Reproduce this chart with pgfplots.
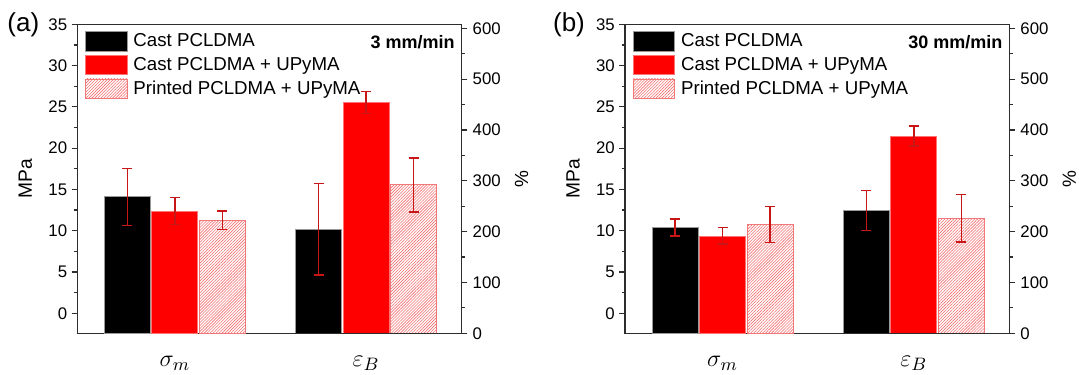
\documentclass[border=0pt]{standalone}
\usepackage{fontspec}
\setmainfont{Liberation Sans}
\usepackage{pgfplots}
\usepackage{pgfplotstable}
\pgfplotsset{compat=1.18}
\usetikzlibrary{patterns.meta}
\definecolor{errred}{RGB}{200,22,22}
\definecolor{hatchred}{RGB}{242,110,110}
\definecolor{hatchedge}{RGB}{240,120,120}
\definecolor{axisgray}{RGB}{45,45,45}

% sigma_m in MPa (value, error); eps_B in % (value, error)
\pgfplotstableread{
x cast castE castU castUE print printE
1 14.1 3.45 12.4 1.63 11.25 1.13
}\aSigma
\pgfplotstableread{
x cast castE castU castUE print printE
2 205 90 454 22 292 53
}\aEps
\pgfplotstableread{
x cast castE castU castUE print printE
1 10.38 1.03 9.37 1.0 10.78 2.18
}\bSigma
\pgfplotstableread{
x cast castE castU castUE print printE
2 242 39.5 388 19.7 226.5 47
}\bEps

\def\off{2.42}
\def\bs{0.248}

\pgfplotsset{
 errplot/.style={draw=none, mark=none, forget plot,
   error bars/y dir=both, error bars/y explicit,
   error bars/error bar style={draw=errred, line width=0.7pt},
   error bars/error mark options={rotate=90, draw=errred, mark size=2.5pt, line width=0.7pt}},
 boxlegend/.style={legend image code/.code={\draw[##1] (0pt,-4.9pt) rectangle (20.8pt,4.9pt);}},
 castbar/.style={ybar, bar width=0.24, bar shift=-\bs, fill=black, draw=black!40, line width=0.4pt, boxlegend},
 castubar/.style={ybar, bar width=0.24, bar shift=0, fill=red, draw=red!55!white, line width=0.4pt, boxlegend},
 printbar/.style={ybar, bar width=0.24, bar shift=\bs, draw=hatchedge, line width=0.4pt,
   pattern={Lines[angle=45,distance=1.05pt,line width=0.3pt]}, pattern color=hatchred, boxlegend},
 common/.style={scale only axis, width=192.2pt, height=154.5pt, xmin=0.49, xmax=2.5,
   tick align=outside, major tick length=2.8pt, minor tick length=1.6pt,
   axis line style={axisgray, line width=0.65pt}, tick style={axisgray, line width=0.6pt},
   yticklabel style={font=\fontsize{8.4}{9}\selectfont},
   /pgf/number format/assume math mode=true},
 rightaxis/.style={common, ymin=0, ymax=607.9, axis x line=none, axis y line*=right,
   ytick={0,100,200,300,400,500,600}, minor ytick={50,150,250,350,450,550},
   yticklabel style={inner sep=2.5pt},
   ylabel={\%}, ylabel style={at={(axis description cs:1.156,0.5)}, anchor=center, font=\fontsize{9.5}{10}\selectfont}},
 leftaxis/.style={common, ymin=0, ymax=37.42,
   ytick={2.42,7.42,12.42,17.42,22.42,27.42,32.42,37.42},
   yticklabels={0,5,10,15,20,25,30,35},
   minor ytick={4.92,9.92,14.92,19.92,24.92,29.92,34.92},
   ytick pos=left, yticklabel style={inner sep=2.1pt},
   xtick={1,2}, xticklabels={$\sigma_m$,$\varepsilon_B$}, xtick style={draw=none},
   xticklabel style={font=\fontsize{13}{13}\selectfont, inner sep=0pt, yshift=-8.6pt},
   ylabel={MPa}, ylabel style={at={(axis description cs:-0.135,0.5)}, anchor=center, font=\fontsize{9.6}{10}\selectfont},
   legend cell align=left,
   legend style={at={(axis description cs:0,1)}, anchor=north west, xshift=3.85pt, yshift=-3.35pt,
     draw=none, fill=none, inner sep=0pt, outer sep=0pt, row sep=1.7pt, column sep=3pt,
     font=\fontsize{9.35}{10}\selectfont, nodes={inner sep=0pt}}}
}

\begin{document}
\begin{tikzpicture}
\useasboundingbox (0,0) rectangle (539.5pt,187pt);
% ---------------- panel (a)
\begin{axis}[rightaxis, at={(38.65pt,20.35pt)}, anchor=south west]
 \addplot[castbar] table[x=x, y=cast] {\aEps};
 \addplot[castubar] table[x=x, y=castU] {\aEps};
 \addplot[printbar] table[x=x, y=print] {\aEps};
 \addplot[errplot] table[x expr=\thisrow{x}-\bs, y=cast, y error=castE] {\aEps};
 \addplot[errplot] table[x=x, y=castU, y error=castUE] {\aEps};
 \addplot[errplot] table[x expr=\thisrow{x}+\bs, y=print, y error=printE] {\aEps};
\end{axis}
\begin{axis}[leftaxis, at={(38.65pt,20.35pt)}, anchor=south west]
 \addplot[castbar] table[x=x, y expr=\thisrow{cast}+\off] {\aSigma};
 \addlegendentry{Cast PCLDMA}
 \addplot[castubar] table[x=x, y expr=\thisrow{castU}+\off] {\aSigma};
 \addlegendentry{Cast PCLDMA + UPyMA}
 \addplot[printbar] table[x=x, y expr=\thisrow{print}+\off] {\aSigma};
 \addlegendentry{Printed PCLDMA + UPyMA}
 \addplot[errplot] table[x expr=\thisrow{x}-\bs, y expr=\thisrow{cast}+\off, y error=castE] {\aSigma};
 \addplot[errplot] table[x=x, y expr=\thisrow{castU}+\off, y error=castUE] {\aSigma};
 \addplot[errplot] table[x expr=\thisrow{x}+\bs, y expr=\thisrow{print}+\off, y error=printE] {\aSigma};
 \node[anchor=north east, inner sep=0pt, xshift=-3.3pt, yshift=-5.3pt, font=\bfseries\fontsize{9}{10}\selectfont] at (rel axis cs:1,1) {3 mm/min};
\end{axis}
\node[font=\fontsize{13}{14}\selectfont, inner sep=0pt] at (11.65pt,174.5pt) {(a)};
% ---------------- panel (b)
\begin{axis}[rightaxis, at={(312.5pt,20.35pt)}, anchor=south west]
 \addplot[castbar] table[x=x, y=cast] {\bEps};
 \addplot[castubar] table[x=x, y=castU] {\bEps};
 \addplot[printbar] table[x=x, y=print] {\bEps};
 \addplot[errplot] table[x expr=\thisrow{x}-\bs, y=cast, y error=castE] {\bEps};
 \addplot[errplot] table[x=x, y=castU, y error=castUE] {\bEps};
 \addplot[errplot] table[x expr=\thisrow{x}+\bs, y=print, y error=printE] {\bEps};
\end{axis}
\begin{axis}[leftaxis, at={(312.5pt,20.35pt)}, anchor=south west]
 \addplot[castbar] table[x=x, y expr=\thisrow{cast}+\off] {\bSigma};
 \addlegendentry{Cast PCLDMA}
 \addplot[castubar] table[x=x, y expr=\thisrow{castU}+\off] {\bSigma};
 \addlegendentry{Cast PCLDMA + UPyMA}
 \addplot[printbar] table[x=x, y expr=\thisrow{print}+\off] {\bSigma};
 \addlegendentry{Printed PCLDMA + UPyMA}
 \addplot[errplot] table[x expr=\thisrow{x}-\bs, y expr=\thisrow{cast}+\off, y error=castE] {\bSigma};
 \addplot[errplot] table[x=x, y expr=\thisrow{castU}+\off, y error=castUE] {\bSigma};
 \addplot[errplot] table[x expr=\thisrow{x}+\bs, y expr=\thisrow{print}+\off, y error=printE] {\bSigma};
 \node[anchor=north east, inner sep=0pt, xshift=-3.3pt, yshift=-5.3pt, font=\bfseries\fontsize{9}{10}\selectfont] at (rel axis cs:1,1) {30 mm/min};
\end{axis}
\node[font=\fontsize{13}{14}\selectfont, inner sep=0pt] at (284.5pt,174.5pt) {(b)};
\end{tikzpicture}
\end{document}
